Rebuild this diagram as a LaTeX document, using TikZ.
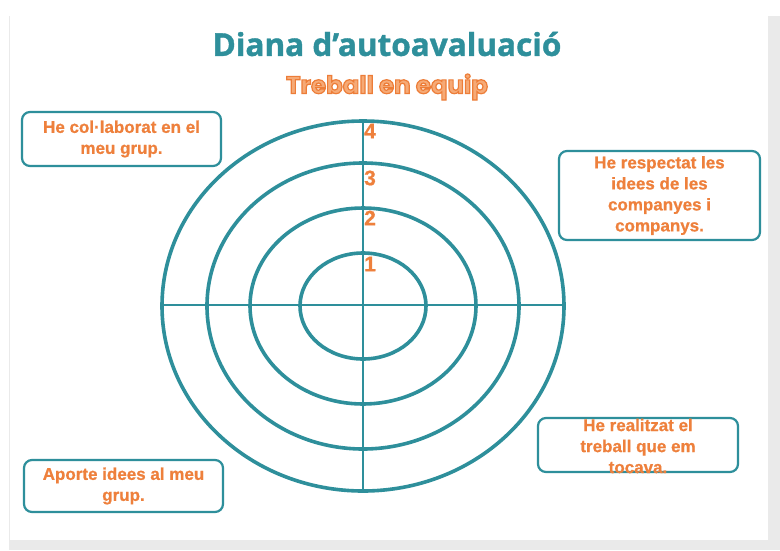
\documentclass[tikz,border=0pt]{standalone}
\usepackage{fontspec}
\setmainfont{Liberation Sans}[BoldFeatures={FakeBold=0.8}]
\newfontfamily\titlefont{Open Sans}[BoldFeatures={FakeBold=1.2}]
\newfontfamily\subfont{Poppins}
\definecolor{tealc}{RGB}{46,143,155}
\definecolor{orng}{RGB}{238,128,60}
\definecolor{lorng}{RGB}{246,170,118}
\definecolor{shadowc}{RGB}{234,234,234}
\newcommand{\outlinetxt}[1]{\special{pdf:literal direct 2 Tr 1.2 w 0.93 0.49 0.22 RG}#1\special{pdf:literal direct 0 Tr}}
\tikzset{
  ring/.style={draw=tealc, line width=3.6pt},
  axisline/.style={draw=tealc, line width=2.4pt},
  boxshape/.style={draw=tealc, line width=2.2pt, rounded corners=8pt, fill=white, inner sep=0pt},
  boxtext/.style={text=orng, align=center, font=\bfseries\fontsize{17}{21}\selectfont, inner sep=0pt},
  numlabel/.style={text=orng, font=\bfseries\fontsize{21}{22}\selectfont, inner sep=0pt},
}
\begin{document}
\begin{tikzpicture}[x=1pt,y=-1pt]
\useasboundingbox (0,0) rectangle (780,550);
\fill[white] (0,0) rectangle (780,550);
\fill[shadowc] (9,16) rectangle (780,550);
\fill[white] (10,0) rectangle (768,540);

% title
\node[text=tealc, font=\titlefont\bfseries\fontsize{31.5}{36}\selectfont, inner sep=0pt] (title) at (387,44) {Diana d’autoavaluació};
\node[text=lorng, font=\subfont\bfseries\fontsize{24.5}{28}\selectfont, inner sep=0pt] (subtitle) at (387,87) {\outlinetxt{Treball en equip}};

% target
\coordinate (c) at (363,306);
\coordinate (top) at (363,122);
\coordinate (bot) at (363,492);
\coordinate (lft) at (162,305);
\coordinate (rgt) at (564,305);
\draw[axisline] (top) -- (bot);
\draw[axisline] (lft) -- (rgt);
\draw[ring] (c) ellipse [x radius=201, y radius=185];
\draw[ring] (c) ellipse [x radius=156, y radius=143];
\draw[ring] (c) ellipse [x radius=113, y radius=98];
\draw[ring] (c) ellipse [x radius=63, y radius=53];

\node[numlabel] (n4) at (370,131) {4};
\node[numlabel] (n3) at (370,178) {3};
\node[numlabel] (n2) at (370,218) {2};
\node[numlabel] (n1) at (370,264) {1};

% boxes
\node[boxshape, minimum width=199pt, minimum height=54pt] (b1) at (121.5,139) {};
\node[boxtext] (t1) at (b1.center) {He col·laborat en el\\meu grup.};

\node[boxshape, minimum width=201pt, minimum height=89pt] (b2) at (659.5,195.5) {};
\node[boxtext] (t2) at (b2.center) {He respectat les\\idees de les\\companyes i\\companys.};

\node[boxshape, minimum width=200pt, minimum height=54pt] (b3) at (638,445) {};
\node[boxtext] (t3) at (638,446) {He realitzat el\\treball que em\\tocava.};

\node[boxshape, minimum width=199pt, minimum height=52pt] (b4) at (123.5,486) {};
\node[boxtext] (t4) at (b4.center) {Aporte idees al meu\\grup.};
\end{tikzpicture}
\end{document}
